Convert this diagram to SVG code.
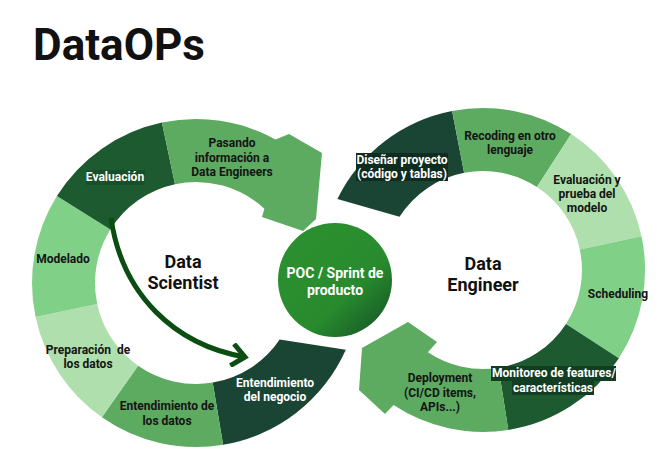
<svg xmlns="http://www.w3.org/2000/svg" width="662" height="471" viewBox="0 0 662 471">
  <style>
    text { font-family: Roboto, "Liberation Sans", Arial, sans-serif; font-weight: 700; text-anchor: middle; }
    .lbl { font-size: 12px; fill: #141414; }
    .wlbl { font-size: 12px; fill: #ffffff; }
    .big { font-size: 18px; fill: #111111; }
    .dark { fill: #1d5a30; }
    .teal { fill: #1a4535; }
    .mid { fill: #5daa61; }
    .light { fill: #80d187; }
    .pale { fill: #aedfac; }
    .conn { fill: none; stroke: #0b4d12; stroke-width: 5; stroke-linecap: butt; }
  </style>
  <defs>
    <linearGradient id="poc" x1="0.25" y1="0.2" x2="0.95" y2="0.95">
      <stop offset="0" stop-color="#2b8f2f"/>
      <stop offset="0.55" stop-color="#288a2d"/>
      <stop offset="1" stop-color="#155526"/>
    </linearGradient>
    <marker id="chev" viewBox="0 0 20 24" refX="16" refY="12" markerWidth="20" markerHeight="24" markerUnits="userSpaceOnUse" orient="auto">
      <path d="M3,1 L16,12 L3,23" fill="none" stroke="#0b4d12" stroke-width="5"/>
    </marker>
  </defs>

  <rect width="662" height="471" fill="#ffffff"/>

  <g id="title">
    <text x="119" y="60" style="font-size:44px;fill:#111111">DataOPs</text>
  </g>

  <!-- Left ring: Data Scientist -->
  <g id="seg-entendimiento-negocio">
    <path class="teal" d="M345.8,349.7 A164,164 0 0 1 223.1,444.8 L212.7,382.6 A101,101 0 0 0 279.7,339.5 Z"/>
    <text class="wlbl" x="275" y="387">Entendimiento</text>
    <text class="wlbl" x="275" y="401">del negocio</text>
  </g>
  <g id="seg-entendimiento-datos">
    <path class="mid" d="M223.1,444.8 A164,164 0 0 1 101.9,417.3 L138.1,365.7 A101,101 0 0 0 212.7,382.6 Z"/>
    <text class="lbl" x="167" y="410">Entendimiento de</text>
    <text class="lbl" x="167" y="425">los datos</text>
  </g>
  <g id="seg-preparacion">
    <path class="pale" d="M101.9,417.3 A164,164 0 0 1 35.6,317.1 L97.2,304.0 A101,101 0 0 0 138.1,365.7 Z"/>
    <text class="lbl" x="88" y="354" xml:space="preserve">Preparación  de</text>
    <text class="lbl" x="88" y="368">los datos</text>
  </g>
  <g id="seg-modelado">
    <path class="light" d="M35.6,317.1 A164,164 0 0 1 56.9,196.1 L110.4,229.5 A101,101 0 0 0 97.2,304.0 Z"/>
    <text class="lbl" x="63" y="263">Modelado</text>
  </g>
  <g id="seg-evaluacion">
    <path class="dark" d="M56.9,196.1 A164,164 0 0 1 161.9,122.6 L175.0,184.2 A101,101 0 0 0 110.4,229.5 Z"/>
    <rect x="86" y="170" width="59" height="15" fill="#174f2a"/>
    <text class="wlbl" x="115" y="181">Evaluación</text>
  </g>
  <g id="seg-pasando">
    <path class="mid" d="M161.9,122.6 A164,164 0 0 1 275.5,139.6 L289,134 L322,153 L316,219 L303,231 L262,217 L264.4,208.7 A101,101 0 0 0 175.0,184.2 Z"/>
    <text class="lbl" x="232" y="147">Pasando</text>
    <text class="lbl" x="232" y="162">información a</text>
    <text class="lbl" x="232" y="176">Data Engineers</text>
  </g>
  <g id="label-data-scientist">
    <text class="big" x="183" y="268">Data</text>
    <text class="big" x="183" y="289">Scientist</text>
  </g>

  <!-- Center -->
  <g id="poc-sprint">
    <circle cx="335" cy="280" r="57" fill="url(#poc)"/>
    <text x="335" y="278" style="font-size:14px;fill:#ffffff">POC / Sprint de</text>
    <text x="335" y="295" style="font-size:14px;fill:#ffffff">producto</text>
  </g>

  <!-- Right ring: Data Engineer -->
  <g id="seg-disenar">
    <path class="teal" d="M337.4,199.0 A162,162 0 0 1 452.1,111.0 L464.1,172.8 A99,99 0 0 0 399.5,216.8 Z"/>
    <rect x="356" y="153" width="92" height="14" fill="#0f2c21"/>
    <rect x="356" y="167" width="92" height="14" fill="#0f2c21"/>
    <text class="wlbl" x="402" y="164">Diseñar proyecto</text>
    <text class="wlbl" x="402" y="178">(código y tablas)</text>
  </g>
  <g id="seg-recoding">
    <path class="mid" d="M452.1,111.0 A162,162 0 0 1 571.2,134.1 L536.9,187.0 A99,99 0 0 0 464.1,172.8 Z"/>
    <text class="lbl" x="510" y="140">Recoding en otro</text>
    <text class="lbl" x="510" y="154">lenguaje</text>
  </g>
  <g id="seg-evaluacion-prueba">
    <path class="pale" d="M571.2,134.1 A162,162 0 0 1 641.5,236.3 L579.8,249.4 A99,99 0 0 0 536.9,187.0 Z"/>
    <text class="lbl" x="587" y="184">Evaluación y</text>
    <text class="lbl" x="587" y="198">prueba del</text>
    <text class="lbl" x="587" y="212">modelo</text>
  </g>
  <g id="seg-scheduling">
    <path class="light" d="M641.5,236.3 A162,162 0 0 1 618.9,358.2 L566.0,323.9 A99,99 0 0 0 579.8,249.4 Z"/>
    <text class="lbl" x="618" y="298">Scheduling</text>
  </g>
  <g id="seg-monitoreo">
    <path class="dark" d="M618.9,358.2 A162,162 0 0 1 508.3,430.0 L498.5,367.8 A99,99 0 0 0 566.0,323.9 Z"/>
  </g>
  <g id="seg-deployment">
    <path class="mid" d="M508.3,430.0 A162,162 0 0 1 393.6,405.1 L385,414 L359,390 L362,348 L408,322 L437,342 L427.9,352.3 A99,99 0 0 0 498.5,367.8 Z"/>
    <text class="lbl" x="440" y="382">Deployment</text>
    <text class="lbl" x="440" y="397">(CI/CD items,</text>
    <text class="lbl" x="440" y="411">APIs...)</text>
  </g>
  <g id="label-monitoreo">
    <rect x="491" y="366" width="125" height="15" fill="#123d22"/>
    <rect x="512" y="381" width="82" height="14" fill="#123d22"/>
    <text class="wlbl" x="554" y="377">Monitoreo de features/</text>
    <text class="wlbl" x="553" y="392">características</text>
  </g>
  <g id="label-data-engineer">
    <text class="big" x="483" y="270">Data</text>
    <text class="big" x="483" y="291">Engineer</text>
  </g>

  <g id="connectors">
    <path class="conn" d="M111,218 C122,295 175,345 245,357" marker-end="url(#chev)"/>
  </g>
</svg>
